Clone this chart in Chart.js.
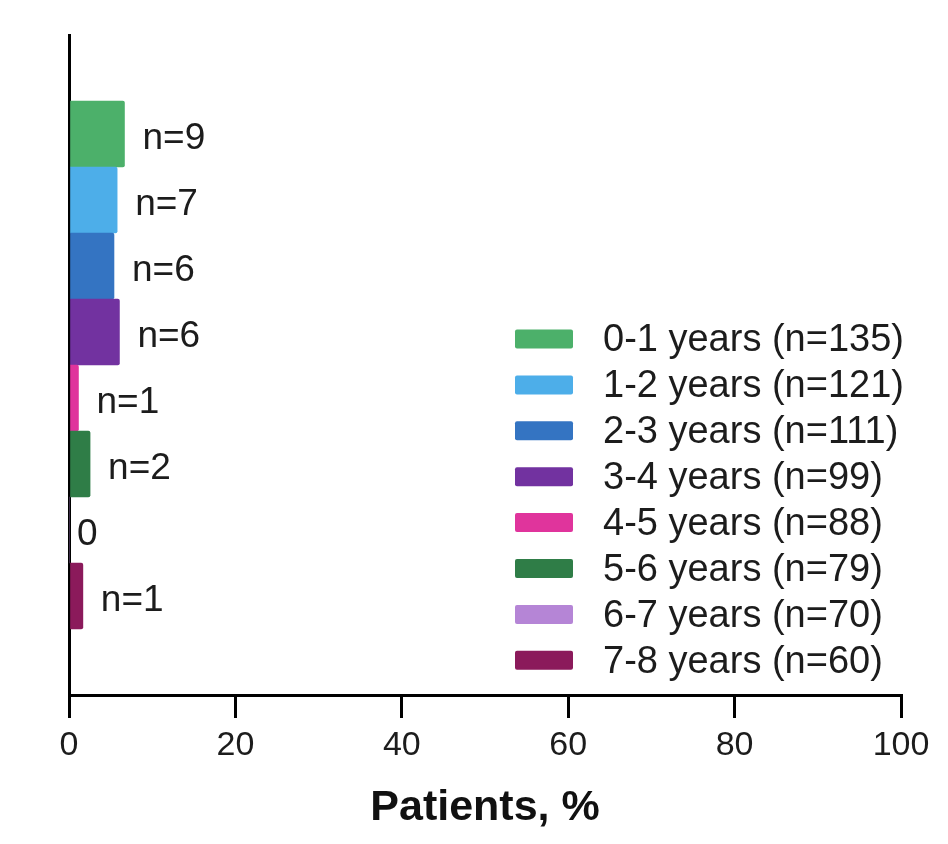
<!DOCTYPE html>
<html>
<head>
<meta charset="utf-8">
<script src="https://cdn.jsdelivr.net/npm/chart.js@4.4.0/dist/chart.umd.min.js"></script>
<style>
  html, body { margin: 0; padding: 0; background: #fff; }
  #wrap { width: 948px; height: 844px; }
</style>
</head>
<body>
<div id="wrap"><canvas id="chart" width="948" height="844"></canvas></div>
<script>
const categories = ["0-1 years", "1-2 years", "2-3 years", "3-4 years", "4-5 years", "5-6 years", "6-7 years", "7-8 years"];
const groupSizes = [135, 121, 111, 99, 88, 79, 70, 60];
const patientCounts = [9, 7, 6, 6, 1, 2, 0, 1];
const barColors = ["#4cb06a", "#4daee9", "#3474c2", "#7232a0", "#e0349c", "#2f7d47", "#b585d6", "#8b1a5b"];
const xTicks = [0, 20, 40, 60, 80, 100];

// percent of patients in each age group
const percents = patientCounts.map((n, i) => (n / groupSizes[i]) * 100);

// one empty slot above and below the bars
const labels = ["", ...categories, ""];
const values = [null, ...percents, null];
const colors = ["#fff", ...barColors, "#fff"];
const counts = [null, ...patientCounts, null];

const barLabels = {
  id: "barLabels",
  afterDatasetsDraw(chart) {
    const ctx = chart.ctx;
    const meta = chart.getDatasetMeta(0);
    ctx.save();
    ctx.fillStyle = "#1c1c1c";
    ctx.textBaseline = "middle";
    ctx.textAlign = "left";
    ctx.font = "37px 'Liberation Sans', Arial, sans-serif";
    meta.data.forEach((bar, i) => {
      const n = counts[i];
      if (n === null) return;
      const text = n === 0 ? "0" : "n=" + n;
      const gap = n === 0 ? 8 : 18;
      ctx.fillText(text, bar.x + gap, bar.y + 5);
    });
    ctx.restore();
  },
};

const boxLegend = {
  id: "boxLegend",
  afterDraw(chart) {
    const ctx = chart.ctx;
    const left = 515;
    const top = 339;
    const step = 45.9;
    ctx.save();
    ctx.font = "38px 'Liberation Sans', Arial, sans-serif";
    ctx.textBaseline = "middle";
    ctx.textAlign = "left";
    categories.forEach((cat, i) => {
      const y = top + i * step;
      ctx.fillStyle = barColors[i];
      ctx.beginPath();
      ctx.roundRect(left, y - 9.5, 58, 19, 2);
      ctx.fill();
      ctx.fillStyle = "#1c1c1c";
      ctx.fillText(cat + " (n=" + groupSizes[i] + ")", left + 88, y + 2);
    });
    ctx.restore();
  },
};

new Chart(document.getElementById("chart"), {
  type: "bar",
  data: {
    labels: labels,
    datasets: [
      {
        data: values,
        backgroundColor: colors,
        borderWidth: 0,
        borderRadius: 2,
        borderSkipped: "start",
        barPercentage: 1,
        categoryPercentage: 1,
      },
    ],
  },
  options: {
    indexAxis: "y",
    responsive: false,
    animation: false,
    layout: { padding: { left: 69, right: 47, top: 35, bottom: 10 } },
    plugins: { legend: { display: false }, tooltip: { enabled: false } },
    scales: {
      x: {
        min: 0,
        max: 100,
        afterBuildTicks(scale) {
          scale.ticks = xTicks.map((v) => ({ value: v }));
        },
        afterFit(scale) {
          scale.height = 139;
        },
        border: { display: true, color: "#000", width: 3 },
        grid: { drawOnChartArea: false, drawTicks: true, tickLength: 23, color: "#000", lineWidth: 3 },
        ticks: {
          color: "#1c1c1c",
          padding: 7,
          maxRotation: 0,
          font: { family: "'Liberation Sans', Arial, sans-serif", size: 34 },
        },
        title: {
          display: true,
          text: "Patients, %",
          color: "#111",
          padding: { top: 4, bottom: 0 },
          font: { family: "'Liberation Sans', Arial, sans-serif", size: 43, weight: "bold" },
        },
      },
      y: {
        afterFit(scale) {
          scale.width = 0;
        },
        border: { display: true, color: "#000", width: 3 },
        grid: { display: false },
        ticks: { display: false },
      },
    },
  },
  plugins: [barLabels, boxLegend],
});
</script>
</body>
</html>
